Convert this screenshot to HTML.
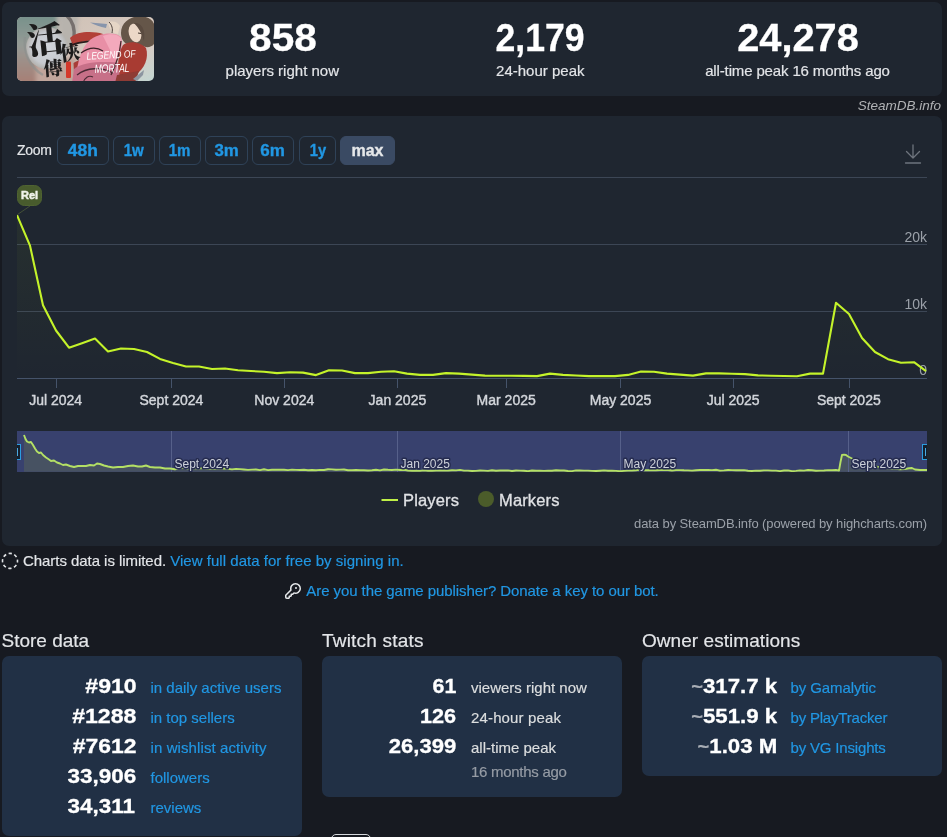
<!DOCTYPE html>
<html lang="en">
<head>
<meta charset="utf-8">
<title>Legend of Mortal - Steam Charts</title>
<style>
html,body{margin:0;padding:0;}
body{width:947px;height:837px;overflow:hidden;background:#171a21;color:#dcdedf;
 font-family:"Liberation Sans","Noto Sans CJK TC",sans-serif;font-size:15px;position:relative;}
.abs{position:absolute;}
.t{position:absolute;white-space:nowrap;line-height:1;}
.panel{position:absolute;background:#1f2630;border-radius:7px;}
.box{position:absolute;background:#213045;border-radius:7px;}
a{color:#2197e3;text-decoration:none;}
.big{font-weight:bold;color:#fff;font-size:38.5px;text-align:center;transform-origin:50% 50%;}
.sub{color:#e3e5e8;font-size:15px;text-align:center;}
.zb{position:absolute;top:136px;height:29px;border:1px solid #2f4258;border-radius:6px;box-sizing:border-box;
 color:#2197e3;font-weight:bold;font-size:16px;line-height:27px;text-align:center;}
.zb span{display:inline-block;-webkit-text-stroke:0.35px currentColor;}
.big,.num{-webkit-text-stroke:0.3px #fff;}
.sub,.lbl,.h,#lim,#pub,#zoom{-webkit-text-stroke:0.18px currentColor;}
.zb.on{background:#3a4a63;border-color:#3a4a63;color:#e6e8ea;}
.num{font-weight:bold;color:#fff;font-size:21px;text-align:right;transform:scaleX(1.1);transform-origin:100% 50%;}
.lbl{font-size:15px;}
.h{font-size:19px;color:#e3e5e8;}
.tl{color:#a9aeb6;font-weight:bold;font-size:19px;-webkit-text-stroke:0.2px #a9aeb6;}
</style>
</head>
<body>

<!-- header panel -->
<div class="panel" style="left:2px;top:2px;width:940px;height:94px;"></div>
<svg class="abs" id="cap" style="left:17px;top:17px;border-radius:5px;" width="137" height="64" viewBox="0 0 137 64">
 <defs>
  <linearGradient id="cg1" x1="0" y1="0" x2="0" y2="1"><stop offset="0" stop-color="#74908a"/><stop offset="0.45" stop-color="#969b96"/><stop offset="1" stop-color="#a97d73"/></linearGradient>
  <linearGradient id="cg2" x1="0" y1="0" x2="1" y2="1"><stop offset="0" stop-color="#cdbfb2"/><stop offset="0.7" stop-color="#d8cbc3"/><stop offset="1" stop-color="#c3d6d2"/></linearGradient>
  <radialGradient id="cg3" cx="0.5" cy="0.5" r="0.5"><stop offset="0" stop-color="#d3d6dc"/><stop offset="0.75" stop-color="#c6c9ce"/><stop offset="1" stop-color="#b3b1ad"/></radialGradient>
  <filter id="cb" x="-10%" y="-10%" width="120%" height="120%"><feGaussianBlur stdDeviation="0.7"/></filter>
  <filter id="cb3" x="-10%" y="-10%" width="120%" height="120%"><feGaussianBlur stdDeviation="2"/></filter>
  <filter id="cb2" x="-10%" y="-10%" width="120%" height="120%"><feGaussianBlur stdDeviation="0.35"/></filter>
 </defs>
 <rect width="137" height="64" fill="url(#cg2)"/>
 <g filter="url(#cb3)">
  <rect x="-4" y="-4" width="44" height="72" fill="url(#cg1)"/>
  <path d="M19,40 L60,40 L60,68 L19,68 Z" fill="#c0a59b"/>
  <path d="M40,-4 L62,-4 L58,30 L44,30 Z" fill="#b7b3ad"/>
 </g>
 <g filter="url(#cb)">
  <circle cx="30" cy="31" r="21" fill="url(#cg3)"/>
  <!-- ink swirl -->
  <path d="M50,-1 C56,4 58,12 57,22" stroke="#6b6563" stroke-width="3.500" fill="none" opacity="0.85"/>
  <path d="M8,20 C6,34 12,50 26,58" stroke="#8b8f8d" stroke-width="2.500" fill="none" opacity="0.6"/>
  <!-- red sleeve / robe left -->
  <path d="M53,21 C60,14 76,14 86,17 L84,24 C74,22 64,24 56,29 Z" fill="#b23f37"/>
  <path d="M55,28 C64,24 76,25 86,22" stroke="#2b1c1e" stroke-width="1.600" fill="none"/>
  <path d="M56.500,46 C62,42 70,42 75,44 L73,53 C67,51 61,52 57,56 Z" fill="#a83c39"/>
  <!-- pink cloth -->
  <path d="M72,24 C80,16 98,14 104,20 C107,30 102,42 96,50 L72,56 L60,52 C62,42 64,32 72,24 Z" fill="#e88fa6"/>
  <path d="M57,52 C66,44 90,44 105,46 L104,66 L55,66 Z" fill="#c76f88"/>
  <path d="M86,19 C93,16 101,17 104,21 C105,29 102,37 98,43 C94,35 90,27 86,19 Z" fill="#f3a9bc"/>
  <path d="M64,36 C72,30 80,30 86,34" stroke="#3a2228" stroke-width="1.200" fill="none"/>
  <path d="M60,58 C70,50 84,50 96,56" stroke="#4a2a34" stroke-width="1.300" fill="none"/>
  <path d="M66,66 C68,60 72,58 76,60" stroke="#4a2a34" stroke-width="1.200" fill="none"/>
  <!-- hair -->
  <path d="M104,16 C104,6 112,0 122,-1 C132,-1 138,4 138,12 L137,27 C134,31 128,31 124,28 L110,27 C106,25 104,21 104,16 Z" fill="#65564a"/>
  <!-- face -->
  <ellipse cx="118" cy="16" rx="6.200" ry="9.500" transform="rotate(-14 118 16)" fill="#ecd8c7"/>
  <path d="M117,6 C124,5 129,12 127,24 C125,17 122,11 117,6 Z" fill="#5a4b40"/>
  <path d="M121,16 l3,0.500" stroke="#3b302a" stroke-width="1" fill="none"/>
  <!-- red robe body -->
  <path d="M106,28 C112,23 124,25 129,31 C132,40 128,52 118,58 L104,62 C100,52 100,38 106,28 Z" fill="#a83a33"/>
  <path d="M100,58 L122,54 L118,66 L98,66 Z" fill="#8e3a34"/>
  <path d="M104,24 C103,34 101,44 94,58" stroke="#45272b" stroke-width="1.300" fill="none"/>
  <!-- hand + knife -->
  <path d="M91,6 C95,3 101,5 103,9 L101,17 C97,17 93,14 91,6 Z" fill="#e6d6c6"/>
  <path d="M92,5 C95,8 96,12 95,16" stroke="#3c3230" stroke-width="0.900" fill="none"/>
  <path d="M73,5.500 L90,7 L89,11 C83,10 78,8 73,5.500 Z" fill="#8794ab"/>
  <path d="M116,62 L127,53 L126,58 L120,64 Z" fill="#8c95a0"/>
  <!-- seal -->
  <rect x="49" y="44.500" width="5" height="16.500" rx="1" fill="#d4382c"/>
 </g>
 <g filter="url(#cb2)" font-family="'Noto Serif CJK SC','Noto Sans CJK TC',serif" font-weight="900" fill="#1d1b1b">
  <text x="28.500" y="35.500" font-size="36" text-anchor="middle" transform="rotate(-6 29 24)">活</text>
  <text x="53" y="43" font-size="20" text-anchor="middle" transform="rotate(-8 53 36)">俠</text>
  <text x="36" y="58" font-size="19" text-anchor="middle" transform="rotate(-4 36 50)">傳</text>
 </g>
 <g filter="url(#cb2)" font-family="'Liberation Sans',sans-serif" font-style="italic" fill="#ffffff">
  <text x="69.500" y="41.500" font-size="10.500" textLength="49" lengthAdjust="spacingAndGlyphs" transform="rotate(-3 93 38)">LEGEND OF</text>
  <text x="77.500" y="55.500" font-size="12" textLength="35" lengthAdjust="spacingAndGlyphs" transform="rotate(-2 95 51)">MORTAL</text>
 </g>
</svg>

<div class="t big" id="n1" style="left:182.9px;width:200px;top:19px;transform:scaleX(1.055);">858</div>
<div class="t sub" id="s1" style="left:182.3px;width:200px;top:63px;">players right now</div>
<div class="t big" id="n2" style="left:440.1px;width:200px;top:19px;transform:scaleX(0.925);">2,179</div>
<div class="t sub" id="s2" style="left:440.3px;width:200px;top:63px;">24-hour peak</div>
<div class="t big" id="n3" style="left:648px;width:300px;top:19px;transform:scaleX(1.033);">24,278</div>
<div class="t sub" id="s3" style="left:647.5px;width:300px;top:63px;letter-spacing:-0.14px;">all-time peak 16 months ago</div>

<div class="t" id="wm" style="right:6px;top:99px;font-size:13.5px;font-style:italic;color:#b0b2b5;">SteamDB.info</div>

<!-- chart panel -->
<div class="panel" style="left:2px;top:116px;width:940px;height:430px;"></div>
<div class="t" id="zoom" style="left:17px;top:143px;font-size:14px;color:#e3e5e8;letter-spacing:-0.25px;">Zoom</div>
<div class="zb" id="z1" style="left:57px;width:52px;"><span style="transform:scaleX(1.09);">48h</span></div>
<div class="zb" id="z2" style="left:113px;width:42px;"><span style="transform:scaleX(0.94);">1w</span></div>
<div class="zb" id="z3" style="left:159px;width:42px;"><span style="transform:scaleX(0.94);">1m</span></div>
<div class="zb" id="z4" style="left:205px;width:43px;"><span style="transform:scaleX(1.05);">3m</span></div>
<div class="zb" id="z5" style="left:252px;width:42px;"><span style="transform:scaleX(1.06);">6m</span></div>
<div class="zb" id="z6" style="left:299px;width:37px;"><span style="transform:scaleX(0.92);">1y</span></div>
<div class="zb on" id="z7" style="left:340px;width:55px;"><span style="transform:scaleX(1.0);">max</span></div>

<svg class="abs" id="chart" style="left:0;top:116px;" width="947" height="430" viewBox="0 116 947 430">
<defs><linearGradient id="ag" x1="0" y1="0" x2="0" y2="1"><stop offset="0" stop-color="#c1f01f" stop-opacity="0.05"/><stop offset="1" stop-color="#c1f01f" stop-opacity="0"/></linearGradient><clipPath id="pclip"><rect x="17" y="170" width="910" height="215"/></clipPath><clipPath id="nclip"><rect x="17" y="431" width="910" height="41"/></clipPath></defs>
<line x1="17" x2="927" y1="177.5" y2="177.5" stroke="#3c4655" stroke-width="1"/>
<line x1="17" x2="927" y1="244.5" y2="244.5" stroke="#3c4655" stroke-width="1"/>
<line x1="17" x2="927" y1="311.5" y2="311.5" stroke="#3c4655" stroke-width="1"/>
<line x1="17" x2="927" y1="378.5" y2="378.5" stroke="#45536a" stroke-width="1"/>
<line x1="56.5" x2="56.5" y1="378" y2="388" stroke="#45536a" stroke-width="1"/>
<line x1="171.5" x2="171.5" y1="378" y2="388" stroke="#45536a" stroke-width="1"/>
<line x1="284.5" x2="284.5" y1="378" y2="388" stroke="#45536a" stroke-width="1"/>
<line x1="397.5" x2="397.5" y1="378" y2="388" stroke="#45536a" stroke-width="1"/>
<line x1="506.5" x2="506.5" y1="378" y2="388" stroke="#45536a" stroke-width="1"/>
<line x1="620.5" x2="620.5" y1="378" y2="388" stroke="#45536a" stroke-width="1"/>
<line x1="733.5" x2="733.5" y1="378" y2="388" stroke="#45536a" stroke-width="1"/>
<line x1="849.5" x2="849.5" y1="378" y2="388" stroke="#45536a" stroke-width="1"/>
<g font-family="'Liberation Sans',sans-serif" font-size="14" fill="#d3d6db" stroke="#d3d6db" stroke-width="0.4" text-anchor="middle"><text x="55.6" y="405">Jul 2024</text><text x="171.4" y="405">Sept 2024</text><text x="284.3" y="405">Nov 2024</text><text x="397.4" y="405">Jan 2025</text><text x="506.2" y="405">Mar 2025</text><text x="620.5" y="405">May 2025</text><text x="733.2" y="405">Jul 2025</text><text x="848.8" y="405">Sept 2025</text></g>
<g font-family="'Liberation Sans',sans-serif" font-size="14" fill="#9ba1a9" text-anchor="end"><text x="927" y="242">20k</text><text x="927" y="309">10k</text><text x="927" y="375">0</text></g>
<path d="M17,378 L17,215.2 L30,245.6 L43,305.2 L56,330.5 L69,347.7 L82,343.2 L95,338.6 L108,351.5 L121,348.5 L134,349 L147,352 L160,358.9 L173,362.9 L186,366.5 L199,366.5 L212,369 L225,368.5 L238,370.3 L251,371 L264,371.8 L277,373.1 L290,372.3 L303,372.6 L316,375.1 L329,370.3 L342,370.5 L355,373.1 L368,373.1 L381,371.8 L394,371.3 L407,373.6 L420,374.9 L433,374.9 L446,373.1 L459,373.6 L472,374.6 L485,375.6 L498,375.7 L511,375.8 L524,375.9 L537,376.1 L550,373.6 L563,374.9 L576,375.5 L589,376.1 L602,376.1 L615,376.1 L628,374.9 L641,371.6 L654,371.8 L667,373.6 L680,374.6 L693,375.6 L706,373.4 L719,373.4 L732,373.8 L745,374.1 L758,375.4 L771,375.7 L784,376 L797,376.2 L810,373.6 L823,373.6 L836,302.7 L849,314 L862,338 L875,352 L888,359.2 L901,362.7 L914,362.2 L926,371.1 L926,378 Z" fill="url(#ag)"/>
<polyline points="17,215.2 30,245.6 43,305.2 56,330.5 69,347.7 82,343.2 95,338.6 108,351.5 121,348.5 134,349 147,352 160,358.9 173,362.9 186,366.5 199,366.5 212,369 225,368.5 238,370.3 251,371 264,371.8 277,373.1 290,372.3 303,372.6 316,375.1 329,370.3 342,370.5 355,373.1 368,373.1 381,371.8 394,371.3 407,373.6 420,374.9 433,374.9 446,373.1 459,373.6 472,374.6 485,375.6 498,375.7 511,375.8 524,375.9 537,376.1 550,373.6 563,374.9 576,375.5 589,376.1 602,376.1 615,376.1 628,374.9 641,371.6 654,371.8 667,373.6 680,374.6 693,375.6 706,373.4 719,373.4 732,373.8 745,374.1 758,375.4 771,375.7 784,376 797,376.2 810,373.6 823,373.6 836,302.7 849,314 862,338 875,352 888,359.2 901,362.7 914,362.2 926,371.1" fill="none" stroke="#c4f32a" stroke-width="2.1" stroke-linejoin="round" clip-path="url(#pclip)"/>
<path d="M17.5,214.5 L30,206" stroke="#4d5a38" stroke-width="0.8" fill="none"/>
<rect x="17.5" y="185.5" width="24" height="20" rx="7" fill="#485b2d" stroke="#4f6331" stroke-width="1"/>
<text x="29.5" y="199" font-family="'Liberation Sans',sans-serif" font-size="11" font-weight="bold" fill="#f0f2ea" stroke="#f0f2ea" stroke-width="0.45" text-anchor="middle">Rel</text>
<g stroke="#6e747d" stroke-width="1.3" fill="none" stroke-linecap="round" stroke-linejoin="round"><path d="M913,145 V158 M906.5,151.5 L913,158 L919.5,151.5 M905.5,163 H920.5"/></g>
<g clip-path="url(#nclip)">
<rect x="17" y="431" width="910" height="41" fill="#38416e"/>
<path d="M24,471.7 L24,435 L25.5,439 L27,441.5 L29,442.5 L31,442 L33,445 L35,448.5 L37,451.5 L39,453 L41,452.5 L43,455 L46,457.5 L49,459.5 L51,461 L54,460.5 L57,462.5 L60,463.5 L63,465 L66,464.5 L70,466 L74,467 L78,466 L82,466 L86,466 L90,465 L94,465.5 L97,463.5 L100,464 L104,465.5 L108,466.5 L113,467.5 L118,467 L123,467 L128,466 L133,465.5 L138,466.5 L142,466.5 L146,465.5 L150,467 L155,467.5 L160,467.5 L165,468.5 L170,468.5 L175,469.3 L180,467.7 L184,467.9 L188,468.5 L192,468 L196,468.4 L200,468.3 L204,468.2 L208,468.8 L212,468.6 L216,468.9 L220,468.5 L224,468.5 L228,468.9 L232,469.4 L236,468.9 L240,469.1 L244,469.5 L248,469.9 L252,469.6 L256,469.5 L260,470.1 L264,469.3 L268,470.1 L272,469.7 L276,469.7 L280,469.6 L284,469.8 L288,470.1 L292,469.6 L296,469.9 L300,470 L304,469.8 L308,470.2 L312,470 L316,470.2 L320,469.9 L324,470 L328,469.3 L332,469.4 L336,469.7 L340,469.6 L344,469.5 L348,470.2 L352,470.2 L356,470 L360,470.3 L364,470.2 L368,470.5 L372,470.3 L376,469.8 L380,470.4 L384,469.5 L388,469.8 L392,470 L396,469.6 L400,470 L404,469.8 L408,470.5 L412,470.7 L416,470.6 L420,470.9 L424,470.4 L428,470.8 L432,470.7 L436,470.6 L440,470.3 L444,470.6 L448,470.6 L452,470.2 L456,470.4 L460,469.9 L464,470.6 L468,470.6 L472,471 L476,470.9 L480,470.5 L484,470.6 L488,470.9 L492,470.3 L496,470.7 L500,470.5 L504,470.5 L508,470.4 L512,471 L516,470.5 L520,470.6 L524,470.7 L528,471.2 L532,470.5 L536,470.8 L540,470.8 L544,470.9 L548,470.7 L552,470.7 L556,470.2 L560,470.5 L564,470.5 L568,471 L572,471.1 L576,470.4 L580,470.5 L584,470.6 L588,470.6 L592,470.9 L596,471 L600,470.7 L604,470.4 L608,470.8 L612,470.8 L616,470.9 L620,471.2 L624,470.9 L628,470.6 L632,470.5 L636,470.3 L640,469.5 L644,470.2 L648,470.1 L652,470.2 L656,470.2 L660,470 L664,470.1 L668,470 L672,470.5 L676,470.1 L680,470.1 L684,470.3 L688,470.4 L692,470.6 L696,470.2 L700,470 L704,470 L708,469.9 L712,470.1 L716,469.8 L720,470.6 L724,470.4 L728,470 L732,470.1 L736,470.2 L740,470.3 L744,470.1 L748,470.8 L752,471 L756,470.6 L760,470.7 L764,470.4 L768,470.4 L772,470.6 L776,470.6 L780,471.1 L784,470.5 L788,470.4 L792,471.2 L796,470.9 L800,470.4 L804,470.6 L808,470 L812,470.3 L816,470.7 L820,470.6 L824,470.5 L828,470.1 L832,470.2 L836,470 L839,470.6 L840.5,462 L842,455 L844,454.6 L846,455 L848,456.5 L850,457.5 L853,459 L857,461 L862,463 L868,465 L875,466.5 L883,467.8 L892,468.6 L900,469.2 L905,469 L909,468.3 L912,468 L915,469.5 L920,470 L927,470 L927,471.7 Z" fill="#475262"/>
<line x1="171.5" x2="171.5" y1="431" y2="472" stroke="#56608a" stroke-width="1"/>
<line x1="397.5" x2="397.5" y1="431" y2="472" stroke="#56608a" stroke-width="1"/>
<line x1="620.5" x2="620.5" y1="431" y2="472" stroke="#56608a" stroke-width="1"/>
<line x1="848.5" x2="848.5" y1="431" y2="472" stroke="#56608a" stroke-width="1"/>
<polyline points="24,435 25.5,439 27,441.5 29,442.5 31,442 33,445 35,448.5 37,451.5 39,453 41,452.5 43,455 46,457.5 49,459.5 51,461 54,460.5 57,462.5 60,463.5 63,465 66,464.5 70,466 74,467 78,466 82,466 86,466 90,465 94,465.5 97,463.5 100,464 104,465.5 108,466.5 113,467.5 118,467 123,467 128,466 133,465.5 138,466.5 142,466.5 146,465.5 150,467 155,467.5 160,467.5 165,468.5 170,468.5 175,469.3 180,467.7 184,467.9 188,468.5 192,468 196,468.4 200,468.3 204,468.2 208,468.8 212,468.6 216,468.9 220,468.5 224,468.5 228,468.9 232,469.4 236,468.9 240,469.1 244,469.5 248,469.9 252,469.6 256,469.5 260,470.1 264,469.3 268,470.1 272,469.7 276,469.7 280,469.6 284,469.8 288,470.1 292,469.6 296,469.9 300,470 304,469.8 308,470.2 312,470 316,470.2 320,469.9 324,470 328,469.3 332,469.4 336,469.7 340,469.6 344,469.5 348,470.2 352,470.2 356,470 360,470.3 364,470.2 368,470.5 372,470.3 376,469.8 380,470.4 384,469.5 388,469.8 392,470 396,469.6 400,470 404,469.8 408,470.5 412,470.7 416,470.6 420,470.9 424,470.4 428,470.8 432,470.7 436,470.6 440,470.3 444,470.6 448,470.6 452,470.2 456,470.4 460,469.9 464,470.6 468,470.6 472,471 476,470.9 480,470.5 484,470.6 488,470.9 492,470.3 496,470.7 500,470.5 504,470.5 508,470.4 512,471 516,470.5 520,470.6 524,470.7 528,471.2 532,470.5 536,470.8 540,470.8 544,470.9 548,470.7 552,470.7 556,470.2 560,470.5 564,470.5 568,471 572,471.1 576,470.4 580,470.5 584,470.6 588,470.6 592,470.9 596,471 600,470.7 604,470.4 608,470.8 612,470.8 616,470.9 620,471.2 624,470.9 628,470.6 632,470.5 636,470.3 640,469.5 644,470.2 648,470.1 652,470.2 656,470.2 660,470 664,470.1 668,470 672,470.5 676,470.1 680,470.1 684,470.3 688,470.4 692,470.6 696,470.2 700,470 704,470 708,469.9 712,470.1 716,469.8 720,470.6 724,470.4 728,470 732,470.1 736,470.2 740,470.3 744,470.1 748,470.8 752,471 756,470.6 760,470.7 764,470.4 768,470.4 772,470.6 776,470.6 780,471.1 784,470.5 788,470.4 792,471.2 796,470.9 800,470.4 804,470.6 808,470 812,470.3 816,470.7 820,470.6 824,470.5 828,470.1 832,470.2 836,470 839,470.6 840.5,462 842,455 844,454.6 846,455 848,456.5 850,457.5 853,459 857,461 862,463 868,465 875,466.5 883,467.8 892,468.6 900,469.2 905,469 909,468.3 912,468 915,469.5 920,470 927,470" fill="none" stroke="#b4e065" stroke-width="1.9" stroke-linejoin="round"/>
<g font-family="'Liberation Sans',sans-serif" font-size="12" fill="#cdd1da" stroke="#262c50" stroke-width="3" paint-order="stroke" stroke-linejoin="round"><text x="174.5" y="468">Sept 2024</text><text x="400.5" y="468">Jan 2025</text><text x="623.5" y="468">May 2025</text><text x="851.5" y="468">Sept 2025</text></g>
<rect x="13.5" y="444.5" width="7" height="15" fill="#14202e" stroke="#2b9de0" stroke-width="1"/><line x1="17.5" x2="17.5" y1="448" y2="456" stroke="#4aa8e0" stroke-width="1"/>
<rect x="922.5" y="444.5" width="7" height="15" fill="#14202e" stroke="#2b9de0" stroke-width="1"/><line x1="925.5" x2="925.5" y1="448" y2="456" stroke="#4aa8e0" stroke-width="1"/>
</g>
<line x1="381.5" x2="398" y1="500" y2="500" stroke="#bff047" stroke-width="2"/>
<circle cx="486" cy="499" r="8" fill="#4b5c2a"/>
<g font-family="'Liberation Sans',sans-serif" font-size="16.5" letter-spacing="0.15" fill="#e0e2e5" stroke="#e0e2e5" stroke-width="0.3"><text x="403" y="506">Players</text><text x="499" y="506">Markers</text></g>
<text x="927" y="528" text-anchor="end" font-family="'Liberation Sans',sans-serif" font-size="13" letter-spacing="-0.1" fill="#9ba1a9">data by SteamDB.info (powered by highcharts.com)</text>
</svg>

<!-- notices -->
<svg class="abs" style="left:0;top:550px;" width="22" height="22" viewBox="0 550 22 22"><circle cx="10" cy="560.9" r="7.5" fill="none" stroke="#dfe1e4" stroke-width="1.6" stroke-dasharray="3.3 2.59" stroke-dashoffset="1.65"/></svg>
<svg class="abs" style="left:285px;top:583px;" width="16" height="16" viewBox="0 0 16 16"><path fill="#e6e8ea" d="M10.5 0a5.499 5.499 0 1 1-1.288 10.848l-.932.932a.749.749 0 0 1-.53.22H7v.75a.749.749 0 0 1-.22.53l-.5.5a.749.749 0 0 1-.53.22H5v.75a.749.749 0 0 1-.22.53l-.5.5a.749.749 0 0 1-.53.22h-2A1.75 1.75 0 0 1 0 14.25v-2c0-.199.079-.389.22-.53l4.932-4.932A5.5 5.5 0 0 1 10.5 0Zm-4 5.500c-.001.431.069.860.205 1.269a.75.75 0 0 1-.181.768L1.5 12.560v1.690c0 .138.112.25.25.25h1.690l.060-.060v-1.190a.75.75 0 0 1 .75-.75h1.190l.060-.060v-1.190a.75.75 0 0 1 .75-.75h1.190l1.023-1.025a.75.75 0 0 1 .768-.180A4 4 0 1 0 6.500 5.500ZM11 6a1 1 0 1 1 0-2 1 1 0 0 1 0 2Z"/></svg>

<div class="t" id="lim" style="left:23px;top:553px;font-size:15px;color:#e3e5e8;letter-spacing:-0.05px;">Charts data is limited. <a style="letter-spacing:0.03px;">View full data for free by signing in.</a></div>
<div class="t" id="pub" style="left:306.3px;top:583px;font-size:15px;letter-spacing:-0.07px;"><a>Are you the game publisher? Donate a key to our bot.</a></div>

<!-- bottom boxes -->
<div class="t h" id="h1" style="left:1.5px;top:631px;">Store data</div>
<div class="t h" id="h2" style="left:322px;top:631px;letter-spacing:0.2px;">Twitch stats</div>
<div class="t h" id="h3" style="left:642px;top:631px;letter-spacing:0.05px;">Owner estimations</div>
<div class="box" style="left:2px;top:656px;width:300px;height:179.5px;"></div>
<div class="box" style="left:322px;top:656px;width:300px;height:141px;"></div>
<div class="box" style="left:642px;top:656px;width:300px;height:119.5px;"></div>

<div class="t num" id="sn0" style="right:810.4px;top:675px;transform:scaleX(1.1);">#910</div>
<div class="t lbl" id="sl0" style="left:150.5px;top:680px;"><a>in daily active users</a></div>
<div class="t num" id="sn1" style="right:810.4px;top:705px;transform:scaleX(1.1);">#1288</div>
<div class="t lbl" id="sl1" style="left:150.5px;top:710px;"><a>in top sellers</a></div>
<div class="t num" id="sn2" style="right:810.4px;top:735px;transform:scaleX(1.09);">#7612</div>
<div class="t lbl" id="sl2" style="left:150.5px;top:740px;letter-spacing:0.1px;"><a>in wishlist activity</a></div>
<div class="t num" id="sn3" style="right:810.4px;top:765px;transform:scaleX(1.07);">33,906</div>
<div class="t lbl" id="sl3" style="left:150.5px;top:770px;"><a>followers</a></div>
<div class="t num" id="sn4" style="right:812px;top:795px;transform:scaleX(1.07);">34,311</div>
<div class="t lbl" id="sl4" style="left:150.5px;top:800px;"><a>reviews</a></div>
<div class="t num" id="tn0" style="right:490.5px;top:675px;transform:scaleX(1.02);">61</div>
<div class="t lbl" id="tl0" style="left:471px;top:680px;color:#dcdedf;">viewers right now</div>
<div class="t num" id="tn1" style="right:490.5px;top:705px;transform:scaleX(1.03);">126</div>
<div class="t lbl" id="tl1" style="left:471px;top:710px;color:#dcdedf;letter-spacing:0.15px;">24-hour peak</div>
<div class="t num" id="tn2" style="right:490.5px;top:735px;transform:scaleX(1.05);">26,399</div>
<div class="t lbl" id="tl2" style="left:471px;top:740px;color:#dcdedf;">all-time peak</div>
<div class="t lbl" id="tl3" style="left:471px;top:764px;color:#969ca5;letter-spacing:-0.28px;">16 months ago</div>
<div class="t num" id="on0" style="right:170px;top:675px;transform:scaleX(1.06);"><span class="tl">~</span>317.7 k</div>
<div class="t lbl" id="ol0" style="left:790.5px;top:680px;letter-spacing:-0.1px;"><a>by Gamalytic</a></div>
<div class="t num" id="on1" style="right:170px;top:705px;transform:scaleX(1.06);"><span class="tl">~</span>551.9 k</div>
<div class="t lbl" id="ol1" style="left:790.5px;top:710px;letter-spacing:-0.2px;"><a>by PlayTracker</a></div>
<div class="t num" id="on2" style="right:170px;top:735px;transform:scaleX(1.06);"><span class="tl">~</span>1.03 M</div>
<div class="t lbl" id="ol2" style="left:790.5px;top:740px;letter-spacing:-0.17px;"><a>by VG Insights</a></div>
<div class="abs" style="left:331px;top:834.3px;width:37.5px;height:20px;border:1.3px solid #d5d8dc;border-radius:5px;"></div>

</body>
</html>
